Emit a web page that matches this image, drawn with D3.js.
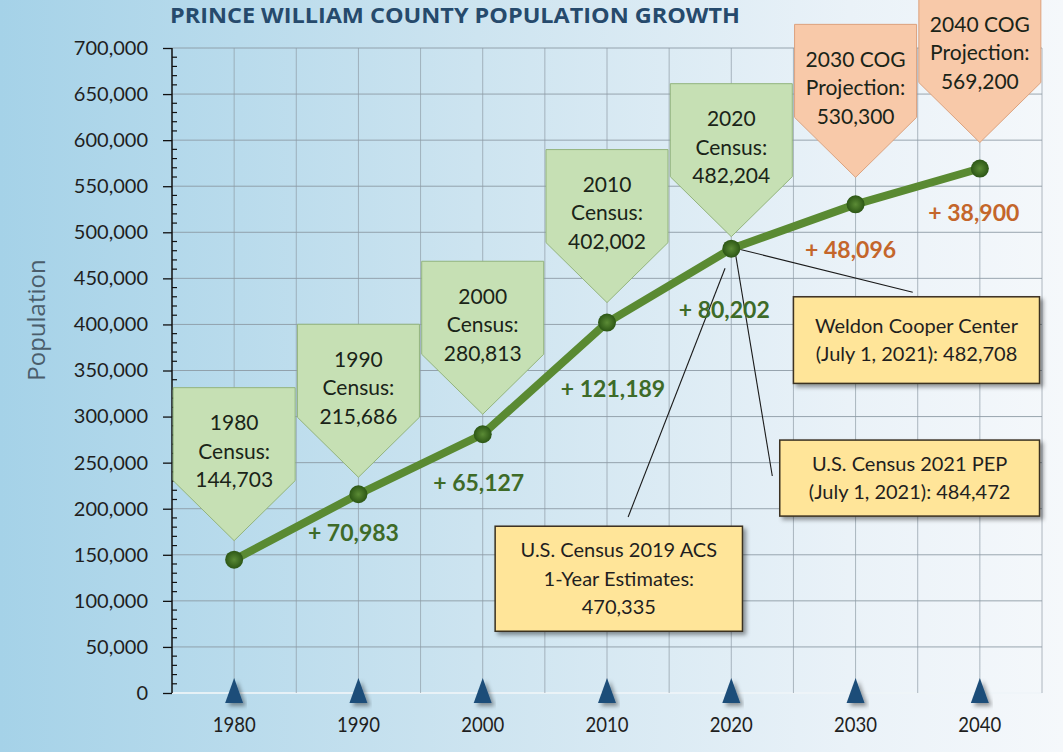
<!DOCTYPE html>
<html>
<head>
<meta charset="utf-8">
<script src="https://d3js.org/d3.v7.min.js"></script>
<style>
  html, body { margin: 0; padding: 0; background: #fff; }
  svg { display: block; }
  text { font-family: Lato, "Open Sans", sans-serif; }
</style>
</head>
<body>
<div id="chart"></div>
<script>
// chart data
var years = [1980, 1990, 2000, 2010, 2020, 2030, 2040];
var population = [144703, 215686, 280813, 402002, 482204, 530300, 569200];
var sources = ["Census", "Census", "Census", "Census", "Census", "COG", "COG"];
var yTicks = [0, 50000, 100000, 150000, 200000, 250000, 300000, 350000, 400000, 450000, 500000, 550000, 600000, 650000, 700000];
var xTicks = [1980, 1990, 2000, 2010, 2020, 2030, 2040];
var estimateNames = [["Weldon Cooper Center", "(July 1, 2021): "], ["U.S. Census 2021 PEP", "(July 1, 2021): "], ["U.S. Census 2019 ACS", "1-Year Estimates:", ""]];
var estimateValues = [482708, 484472, 470335];

var width = 1063, height = 752;
var fmt = d3.format(",");

var svg = d3.select("#chart").append("svg")
    .attr("width", width)
    .attr("height", height);

var defs = svg.append("defs");
var bg = defs.append("linearGradient").attr("id", "bg").attr("x1", 0).attr("x2", 1).attr("y1", 0).attr("y2", 0);
bg.append("stop").attr("offset", "0%").attr("stop-color", "#a5d2e8");
bg.append("stop").attr("offset", "45%").attr("stop-color", "#cde4f0");
bg.append("stop").attr("offset", "80%").attr("stop-color", "#eaf2f8");
bg.append("stop").attr("offset", "100%").attr("stop-color", "#f5f8fb");

var dotGrad = defs.append("radialGradient").attr("id", "dot");
dotGrad.append("stop").attr("offset", "0%").attr("stop-color", "#5b8b35");
dotGrad.append("stop").attr("offset", "100%").attr("stop-color", "#2c5615");

var shadow = defs.append("filter").attr("id", "shadow")
    .attr("x", "-10%").attr("y", "-10%").attr("width", "130%").attr("height", "140%");
shadow.append("feDropShadow").attr("dx", 3).attr("dy", 3).attr("stdDeviation", 2)
    .attr("flood-color", "#000").attr("flood-opacity", 0.4);

svg.append("rect").attr("width", width).attr("height", height).attr("fill", "url(#bg)");

var x = d3.scaleLinear().domain([1975, 2045]).range([172, 1042]);
var y = d3.scaleLinear().domain([0, 700000]).range([693, 48]);

// grid
var grid = svg.append("g");
grid.selectAll(".hgrid")
    .data(yTicks)
    .enter().append("line")
    .attr("x1", x(1975)).attr("x2", x(2045))
    .attr("y1", function(d) { return y(d); })
    .attr("y2", function(d) { return y(d); })
    .attr("stroke", function(d) { return d === 0 ? "#eef4f8" : "#8a97a1"; })
    .attr("stroke-width", function(d) { return d === 0 ? 2 : 1; })
    .attr("stroke-opacity", 0.85);

grid.selectAll(".vgrid")
    .data(d3.range(1980, 2046, 5))
    .enter().append("line")
    .attr("x1", function(d) { return x(d); })
    .attr("x2", function(d) { return x(d); })
    .attr("y1", y(700000)).attr("y2", y(0))
    .attr("stroke", "#8e9ba5")
    .attr("stroke-width", 1)
    .attr("stroke-opacity", 0.7);

// y axis
var yAxis = svg.append("g")
    .attr("transform", "translate(" + x(1975) + ",0)")
    .call(d3.axisLeft(y).tickValues(yTicks).tickSize(9).tickPadding(15).tickFormat(fmt));
yAxis.select(".domain").attr("stroke", "#111").attr("stroke-width", 1.5).attr("d", "M0," + y(700000) + "V" + y(0));
yAxis.selectAll(".tick line").attr("stroke", "#111").attr("stroke-width", 1.3);
yAxis.selectAll(".tick text")
    .style("font-family", "Lato, sans-serif")
    .style("font-size", "20px")
    .attr("fill", "#1f1f1f");

var minor = d3.range(0, 700001, 10000).filter(function(d) { return d % 50000 !== 0; });
svg.append("g").selectAll("line")
    .data(minor)
    .enter().append("line")
    .attr("x1", x(1975)).attr("x2", x(1975) + 5)
    .attr("y1", function(d) { return y(d); })
    .attr("y2", function(d) { return y(d); })
    .attr("stroke", "#111").attr("stroke-width", 1.2);

svg.append("text")
    .attr("transform", "translate(45,320) rotate(-90)")
    .attr("text-anchor", "middle")
    .style("font-family", "'Open Sans', sans-serif")
    .style("font-size", "24px")
    .attr("fill", "#4a5d6b")
    .text("Population");

svg.append("text")
    .attr("x", 455).attr("y", 23)
    .attr("text-anchor", "middle")
    .attr("textLength", 570)
    .attr("lengthAdjust", "spacingAndGlyphs")
    .style("font-family", "'Open Sans', sans-serif")
    .style("font-weight", "bold")
    .style("font-size", "21px")
    .attr("fill", "#264a6c")
    .text("PRINCE WILLIAM COUNTY POPULATION GROWTH");

// x axis markers
svg.append("g").selectAll("path")
    .data(xTicks)
    .enter().append("path")
    .attr("d", function(d) {
        var cx = x(d);
        return "M" + (cx - 9) + ",703L" + cx + ",678L" + (cx + 9) + ",703Z";
    })
    .attr("fill", "#1f4e79")
    .attr("filter", "url(#shadow)");

svg.append("g").selectAll("text")
    .data(xTicks)
    .enter().append("text")
    .attr("x", function(d) { return x(d); })
    .attr("y", 732)
    .attr("text-anchor", "middle")
    .attr("textLength", 43)
    .attr("lengthAdjust", "spacingAndGlyphs")
    .style("font-size", "21px")
    .attr("fill", "#1f1f1f")
    .text(function(d) { return d; });

// leader lines from the 2020 point to the estimate boxes
var leaders = [
    [[x(2020) + 6, y(482204)], [x(2034.6), y(435000)]],
    [[x(2020) + 4, y(482204) + 4], [x(2023.3), y(235500)]],
    [[x(2019.5), y(461000)], [x(2011.7), y(191000)]]
];
svg.append("g").selectAll("line")
    .data(leaders)
    .enter().append("line")
    .attr("x1", function(d) { return d[0][0]; })
    .attr("y1", function(d) { return d[0][1]; })
    .attr("x2", function(d) { return d[1][0]; })
    .attr("y2", function(d) { return d[1][1]; })
    .attr("stroke", "#1a1a1a")
    .attr("stroke-width", 1.1);

// population line
var line = d3.line()
    .x(function(d, i) { return x(years[i]); })
    .y(function(d) { return y(d); });

svg.append("path")
    .datum(population)
    .attr("d", line)
    .attr("fill", "none")
    .attr("stroke", "#5a8a32")
    .attr("stroke-width", 8)
    .attr("stroke-linejoin", "round");

svg.append("g").selectAll("circle")
    .data(population)
    .enter().append("circle")
    .attr("cx", function(d, i) { return x(years[i]); })
    .attr("cy", function(d) { return y(d); })
    .attr("r", 9)
    .attr("fill", "url(#dot)");

// callout arrows above each point
var calloutGap = [19, 17, 20, 20, 12, 27, 26];
var callouts = svg.append("g").selectAll("g")
    .data(population)
    .enter().append("g")
    .attr("transform", function(d, i) {
        return "translate(" + x(years[i]) + "," + (y(d) - calloutGap[i]) + ")";
    });

callouts.append("path")
    .attr("d", "M0,0L-61,-60L-61,-153L61,-153L61,-60Z")
    .attr("fill", function(d, i) { return sources[i] === "COG" ? "#f8c9a9" : "#c6e0b4"; })
    .attr("stroke", function(d, i) { return sources[i] === "COG" ? "#dca27e" : "#93b47d"; })
    .attr("stroke-width", 1);

callouts.each(function(d, i) {
    var lines = sources[i] === "COG"
        ? [years[i] + " COG", "Projection:", fmt(d)]
        : [String(years[i]), "Census:", fmt(d)];
    d3.select(this).selectAll("text")
        .data(lines)
        .enter().append("text")
        .attr("x", 0)
        .attr("y", function(t, j) { return -153 + 35 + j * 28.5; })
        .attr("dy", "0.35em")
        .attr("text-anchor", "middle")
        .style("font-size", "21px")
        .attr("fill", "#1a2418")
        .text(function(t) { return t; });
});

// growth between points
var growthOffset = [[-5, 39], [-4, 49], [6, 66], [-7, 61], [-5, 46], [-6, 44]];
svg.append("g").selectAll("text")
    .data(population.slice(1))
    .enter().append("text")
    .attr("x", function(d, i) { return x(years[i + 1]) + growthOffset[i][0]; })
    .attr("y", function(d, i) { return y(d) + growthOffset[i][1]; })
    .attr("dy", "0.35em")
    .attr("text-anchor", "middle")
    .style("font-size", "23px")
    .style("font-weight", "bold")
    .attr("fill", function(d, i) { return sources[i + 1] === "COG" ? "#c4662b" : "#3e6b28"; })
    .text(function(d, i) { return "+ " + fmt(d - population[i]); });

// estimate boxes
var boxes = [
    {x0: 2025, x1: 2044.8, top: 430000, bottom: 336000},
    {x0: 2023.9, x1: 2044.8, top: 274500, bottom: 192000},
    {x0: 2001, x1: 2020.9, top: 181000, bottom: 67000}
];
var est = svg.append("g").selectAll("g")
    .data(estimateValues)
    .enter().append("g");

est.append("rect")
    .attr("x", function(d, i) { return x(boxes[i].x0); })
    .attr("y", function(d, i) { return y(boxes[i].top); })
    .attr("width", function(d, i) { return x(boxes[i].x1) - x(boxes[i].x0); })
    .attr("height", function(d, i) { return y(boxes[i].bottom) - y(boxes[i].top); })
    .attr("fill", "#ffe599")
    .attr("stroke", "#3a3020")
    .attr("stroke-width", 1.5)
    .attr("filter", "url(#shadow)");

est.each(function(d, i) {
    var names = estimateNames[i].slice();
    names[names.length - 1] = names[names.length - 1] + fmt(d);
    var b = boxes[i];
    var cx = (x(b.x0) + x(b.x1)) / 2;
    var cy = (y(b.top) + y(b.bottom)) / 2;
    d3.select(this).selectAll("text")
        .data(names)
        .enter().append("text")
        .attr("x", cx)
        .attr("y", function(t, j) { return cy + (j - (names.length - 1) / 2) * 28.5; })
        .attr("dy", "0.35em")
        .attr("text-anchor", "middle")
        .style("font-size", "20px")
        .attr("fill", "#1f1f1f")
        .text(function(t) { return t; });
});
</script>
</body>
</html>
